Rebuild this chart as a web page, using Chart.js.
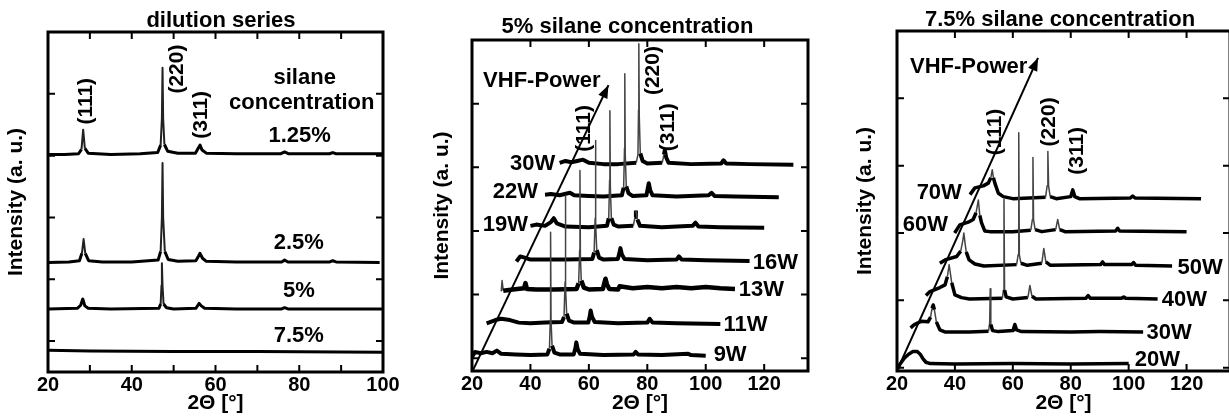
<!DOCTYPE html>
<html>
<head>
<meta charset="utf-8">
<script src="https://cdn.jsdelivr.net/npm/chart.js@4"></script>
<style>
  body { margin: 0; width: 1229px; height: 416px; overflow: hidden; position: relative; background: #fff; }
  canvas { position: absolute; top: 0; }
</style>
</head>
<body>
<canvas id="c1" width="442" height="416" style="left:0"></canvas>
<canvas id="c2" width="435" height="416" style="left:410px"></canvas>
<canvas id="c3" width="480" height="416" style="left:820px"></canvas>
<script>
// ---- panel 1: dilution series (2theta, intensity offset) ----
const dil125 = [[20,3.02],[24,3.02],[27.3,3.03],[28.0,3.1],[28.4,3.42],[28.8,3.12],[29.6,3.04],[35,3.02],[42,3.03],[46.2,3.05],[46.9,3.17],[47.2,3.6],[47.35,4.42],[47.5,3.6],[47.8,3.18],[48.6,3.07],[51,3.04],[55.2,3.04],[55.8,3.11],[56.3,3.17],[56.8,3.09],[57.8,3.04],[65,3.03],[75.5,3.03],[76.5,3.06],[77.5,3.03],[87.2,3.03],[88,3.05],[88.8,3.03],[100,3.03]];
const dil25 = [[20,1.27],[25,1.28],[27.5,1.3],[28.1,1.42],[28.5,1.65],[28.9,1.42],[29.7,1.3],[33,1.28],[40,1.28],[46.3,1.31],[46.9,1.45],[47.2,2.0],[47.35,2.88],[47.5,2.0],[47.9,1.45],[48.7,1.32],[51,1.29],[55.3,1.3],[55.9,1.37],[56.3,1.42],[56.9,1.34],[57.8,1.29],[65,1.28],[75.8,1.28],[76.5,1.31],[77.3,1.28],[87.3,1.28],[88,1.3],[88.8,1.28],[99.2,1.27]];
const dil5 = [[20,0.52],[27,0.53],[27.8,0.58],[28.3,0.68],[28.8,0.57],[29.6,0.53],[35,0.52],[46.5,0.53],[46.9,0.6],[47.1,0.9],[47.2,1.26],[47.35,0.9],[47.6,0.6],[48.3,0.54],[50,0.52],[55.3,0.53],[55.8,0.58],[56.1,0.61],[56.6,0.57],[57.4,0.53],[65,0.52],[75.8,0.52],[76.5,0.54],[77.3,0.52],[100,0.52]];
const dil75 = [[20,-0.15],[30,-0.16],[50,-0.17],[70,-0.17],[100,-0.18]];

// ---- panel 2: 5% silane, VHF power series ----
const p5_9W = [[20,0.02],[21,0.1],[23,0.08],[25,0.1],[27,0.08],[28.5,0.12],[30,0.07],[35,0.06],[40,0.05],[45.8,0.06],[46.5,0.15],[46.8,0.6],[46.9,1.98],[47.05,0.6],[47.4,0.2],[48.2,0.09],[50,0.06],[54.8,0.06],[55.4,0.16],[55.7,0.25],[56.2,0.14],[57,0.07],[65,0.05],[75.3,0.06],[76,0.1],[76.8,0.06],[85,0.05],[94,0.07],[95,0.05],[100,0.04]];
const p5_11W = [[25,0.55],[28,0.6],[30,0.62],[33,0.6],[36,0.56],[40,0.55],[45,0.56],[50.8,0.57],[51.5,0.65],[51.85,1.2],[51.95,2.55],[52.1,1.1],[52.4,0.7],[53.2,0.59],[55,0.56],[59.8,0.56],[60.3,0.66],[60.6,0.75],[61.1,0.65],[62,0.57],[70,0.55],[80,0.56],[80.8,0.62],[81.8,0.56],[90,0.55],[105,0.54]];
const p5_13W = [[30,1.05],[30.3,1.22],[30.7,1.06],[34,1.08],[37.8,1.1],[38.3,1.18],[38.8,1.09],[42,1.08],[48,1.08],[55.8,1.09],[56.5,1.18],[56.85,1.7],[56.95,2.95],[57.1,1.6],[57.4,1.22],[58.3,1.11],[60,1.08],[64.8,1.09],[65.4,1.2],[65.7,1.25],[66.2,1.16],[67,1.09],[70,1.08],[70.5,1.13],[75,1.1],[80,1.12],[85,1.1],[90,1.12],[95,1.1],[100,1.12],[105,1.1],[110,1.09]];
const p5_16W = [[35.2,1.52],[36.5,1.6],[38,1.58],[40,1.55],[45,1.55],[52,1.55],[61.2,1.56],[61.8,1.66],[62.15,2.2],[62.25,3.42],[62.4,2.1],[62.7,1.7],[63.5,1.58],[65,1.55],[69.9,1.56],[70.5,1.66],[70.8,1.73],[71.3,1.63],[72.2,1.56],[80,1.54],[90,1.55],[90.8,1.6],[91.8,1.55],[100,1.54],[115,1.53]];
const p5_19W = [[40,2.08],[42,2.1],[45,2.08],[47,2.14],[48,2.2],[49,2.12],[52,2.07],[60,2.06],[66.2,2.08],[66.8,2.2],[67.1,2.8],[67.2,3.89],[67.35,2.7],[67.7,2.2],[68.5,2.1],[70,2.07],[75.2,2.08],[75.8,2.22],[76.1,2.32],[76.6,2.18],[77.5,2.08],[85,2.06],[95.5,2.08],[96.5,2.13],[97.5,2.07],[105,2.06],[120,2.05]];
const p5_22W = [[45,2.57],[47,2.58],[50,2.56],[53.5,2.6],[55,2.56],[60,2.55],[65,2.54],[71.3,2.56],[71.9,2.68],[72.2,3.3],[72.3,4.47],[72.45,3.2],[72.8,2.7],[73.6,2.59],[75,2.55],[79.7,2.56],[80.2,2.68],[80.5,2.75],[81,2.64],[81.8,2.56],[90,2.54],[101,2.56],[102,2.6],[103,2.55],[110,2.54],[125,2.53]];
const p5_30W = [[50,3.07],[52,3.1],[54,3.08],[56,3.1],[58,3.12],[60,3.07],[65,3.05],[70,3.05],[76.2,3.07],[76.8,3.2],[77.0,3.9],[77.1,4.94],[77.25,3.8],[77.6,3.22],[78.4,3.1],[80,3.06],[85.1,3.07],[85.7,3.2],[86.0,3.27],[86.5,3.15],[87.3,3.07],[95,3.05],[105.3,3.06],[106.1,3.11],[107,3.06],[115,3.05],[130,3.04]];
const p5_arrow = [[20.3,-0.19],[66.7,4.29]];

// ---- panel 3: 7.5% silane, VHF power series ----
const p75_20W = [[20,-0.04],[21,0.05],[22.5,0.14],[24,0.2],[25.5,0.24],[27,0.24],[28,0.2],[29,0.13],[30,0.08],[31.5,0.06],[40,0.055],[60,0.06],[80,0.055],[100,0.06]];
const p75_30W = [[24.7,0.59],[26,0.64],[28.5,0.69],[30.7,0.68],[31.6,0.75],[32.1,0.88],[32.5,0.93],[32.9,0.86],[33.6,0.68],[34.8,0.56],[36.5,0.53],[45,0.53],[51.6,0.54],[52.0,0.66],[52.2,1.17],[52.4,0.64],[53.0,0.55],[55,0.535],[60.1,0.55],[60.7,0.64],[61.3,0.56],[63,0.535],[80,0.53],[90,0.535],[105,0.53]];
const p75_40W = [[30,1.07],[31.4,1.13],[34.8,1.19],[36.6,1.23],[37.4,1.35],[38.0,1.53],[38.5,1.38],[38.9,1.26],[40,1.08],[42.3,1.04],[45,1.02],[56.4,1.03],[56.75,1.15],[56.95,2.5],[57.15,1.15],[57.7,1.05],[60,1.02],[65.2,1.04],[65.9,1.22],[66.6,1.06],[68,1.02],[85.2,1.03],[86,1.07],[86.8,1.03],[97.5,1.03],[98.3,1.05],[99,1.03],[110,1.02]];
const p75_50W = [[34.8,1.55],[36.6,1.6],[40.6,1.65],[42.0,1.73],[42.7,1.88],[43.1,2.0],[43.5,1.85],[43.9,1.72],[44.9,1.6],[46.9,1.54],[50,1.51],[61.3,1.53],[61.85,1.68],[62.05,3.49],[62.25,1.68],[62.8,1.55],[65,1.52],[70.0,1.55],[70.7,1.77],[71.4,1.57],[73,1.52],[90.3,1.53],[91,1.57],[91.7,1.53],[101,1.53],[101.7,1.56],[102.4,1.52],[115,1.51]];
const p75_60W = [[39.9,2.0],[41.7,2.12],[44.6,2.16],[46.3,2.2],[47.3,2.3],[48.1,2.49],[48.6,2.26],[49.2,2.15],[50.3,2.03],[52,2.02],[60,2.02],[66.2,2.04],[66.75,2.2],[66.95,3.12],[67.15,2.2],[67.7,2.05],[70,2.02],[74.8,2.05],[75.5,2.2],[76.2,2.05],[78,2.02],[95.5,2.03],[96.2,2.07],[96.9,2.03],[120,2.02]];
const p75_70W = [[45.2,2.57],[46.9,2.67],[49.8,2.7],[51.5,2.74],[52.4,2.82],[52.9,2.94],[53.3,2.82],[53.8,2.74],[55.0,2.59],[56.7,2.54],[60,2.51],[71.3,2.53],[71.85,2.7],[72.1,3.21],[72.35,2.7],[72.9,2.54],[75,2.51],[80.0,2.54],[80.7,2.64],[81.4,2.54],[83,2.51],[100.6,2.52],[101.4,2.55],[102.2,2.52],[125,2.51]];
const p75_arrow = [[20,-0.045],[68.7,4.6]];

const yTickValues = [0, 1, 2, 3, 4];

const FONT = '"Liberation Sans", Arial, sans-serif';
Chart.defaults.font.family = FONT;
Chart.defaults.color = '#000';

// thin, grey strokes for the very sharp peak flanks
function isSteep(ctx) {
    const dx = Math.abs(ctx.p1.x - ctx.p0.x);
    const dy = Math.abs(ctx.p1.y - ctx.p0.y);
    return dy > 8 && dy > 4 * dx;
}

function curve(data, width, thin, thinColor) {
    return {
        data: data,
        borderColor: '#000',
        borderWidth: width,
        borderJoinStyle: 'round',
        pointRadius: 0,
        tension: 0,
        segment: {
            borderWidth: ctx => isSteep(ctx) ? thin : undefined,
            borderColor: ctx => isSteep(ctx) ? thinColor : undefined
        }
    };
}

function arrow(data) {
    return { data: data, arrow: true, borderColor: '#000', borderWidth: 2, pointRadius: 0, tension: 0 };
}

// frame, inward ticks, arrow heads and text labels
function framePlugin(labels) {
    return {
        id: 'frame',
        afterDatasetsDraw(chart) {
            const { ctx, chartArea: a, scales } = chart;
            const x = scales.x, y = scales.y;
            ctx.save();
            ctx.strokeStyle = '#000';
            ctx.lineWidth = 2;
            ctx.beginPath();
            x.ticks.forEach(t => {
                if (t.value <= x.min || t.value >= x.max) return;
                const px = x.getPixelForValue(t.value);
                ctx.moveTo(px, a.top); ctx.lineTo(px, a.top + 7);
                ctx.moveTo(px, a.bottom); ctx.lineTo(px, a.bottom - 7);
            });
            yTickValues.forEach(v => {
                const py = y.getPixelForValue(v);
                ctx.moveTo(a.left, py); ctx.lineTo(a.left + 7, py);
                ctx.moveTo(a.right, py); ctx.lineTo(a.right - 7, py);
            });
            ctx.stroke();
            ctx.lineWidth = 3;
            ctx.strokeRect(a.left, a.top, a.right - a.left, a.bottom - a.top);

            chart.data.datasets.forEach((ds, i) => {
                if (!ds.arrow) return;
                const pts = chart.getDatasetMeta(i).data;
                const p0 = pts[0], p1 = pts[pts.length - 1];
                const ang = Math.atan2(p1.y - p0.y, p1.x - p0.x);
                ctx.save();
                ctx.translate(p1.x, p1.y);
                ctx.rotate(ang);
                ctx.beginPath();
                ctx.moveTo(0, 0); ctx.lineTo(-13, -5); ctx.lineTo(-13, 5);
                ctx.closePath();
                ctx.fillStyle = '#000';
                ctx.fill();
                ctx.restore();
            });

            ctx.fillStyle = '#000';
            labels.forEach(l => {
                ctx.save();
                ctx.font = 'bold ' + (l.size || 22) + 'px ' + FONT;
                ctx.translate(x.getPixelForValue(l.x), y.getPixelForValue(l.y));
                if (l.rot) ctx.rotate(-Math.PI / 2);
                ctx.textAlign = l.align || 'center';
                ctx.textBaseline = 'middle';
                ctx.fillText(l.text, 0, 0);
                ctx.restore();
            });
            ctx.restore();
        }
    };
}

function makeChart(id, p) {
    return new Chart(document.getElementById(id), {
        type: 'line',
        data: { datasets: p.datasets },
        options: {
            responsive: false,
            animation: false,
            events: [],
            layout: { padding: 0 },
            plugins: {
                legend: { display: false },
                tooltip: { enabled: false },
                title: {
                    display: true,
                    text: p.title,
                    font: { size: 22, weight: 'bold', lineHeight: 1 },
                    padding: { top: p.titleTop, bottom: p.titleBottom }
                }
            },
            scales: {
                x: {
                    type: 'linear',
                    min: p.xMin, max: p.xMax,
                    grid: { display: false, drawTicks: false },
                    border: { display: false },
                    ticks: {
                        stepSize: p.xStep,
                        includeBounds: false,
                        autoSkip: false,
                        maxRotation: 0,
                        padding: 1,
                        font: { size: 20, weight: 'bold' },
                        callback: v => (v % 20 === 0 ? v : '')
                    },
                    title: {
                        display: true,
                        text: '2\u0398 [\u00b0]',
                        font: { size: 21, weight: 'bold', lineHeight: 1.2 },
                        padding: { top: 0, bottom: 0 }
                    },
                    afterFit: s => { s.height = p.xAxisH; }
                },
                y: {
                    type: 'linear',
                    position: 'left',
                    min: p.yMin, max: 5,
                    grid: { display: false, drawTicks: false },
                    border: { display: false },
                    ticks: { display: false },
                    title: {
                        display: true,
                        text: 'Intensity (a. u.)',
                        font: { size: 21, weight: 'bold', lineHeight: 1.2 },
                        padding: { top: p.yTitlePad, bottom: 0 }
                    },
                    afterFit: s => { s.width = p.leftW; }
                },
                y2: {
                    type: 'linear',
                    position: 'right',
                    grid: { display: false, drawTicks: false },
                    border: { display: false },
                    ticks: { display: false },
                    afterFit: s => { s.width = p.rightW; }
                }
            }
        },
        plugins: [framePlugin(p.labels)]
    });
}

// panel 1
makeChart('c1', {
    title: 'dilution series', titleTop: 9.5, titleBottom: 0.5,
    xMin: 20, xMax: 100, xStep: 10, yMin: -0.5,
    leftW: 48, rightW: 59, xAxisH: 44, yTitlePad: 4,
    datasets: [
        curve(dil125, 3, 2, '#222'),
        curve(dil25, 3, 2, '#222'),
        curve(dil5, 3, 2, '#222'),
        curve(dil75, 3, 2, '#222')
    ],
    labels: [
        { text: '(111)', x: 29.1, y: 3.88, rot: true, size: 21 },
        { text: '(220)', x: 50.8, y: 4.4, rot: true, size: 21 },
        { text: '(311)', x: 56.5, y: 3.66, rot: true, size: 21 },
        { text: 'silane', x: 81.3, y: 4.26 },
        { text: 'concentration', x: 80.6, y: 3.85 },
        { text: '1.25%', x: 80.1, y: 3.32 },
        { text: '2.5%', x: 79.9, y: 1.59 },
        { text: '5%', x: 79.9, y: 0.81 },
        { text: '7.5%', x: 79.9, y: 0.08 }
    ]
});

// panel 2
makeChart('c2', {
    title: '5% silane concentration', titleTop: 16, titleBottom: 2,
    xMin: 20, xMax: 135, xStep: 20, yMin: -0.2,
    leftW: 62, rightW: 37, xAxisH: 45, yTitlePad: 20,
    datasets: [
        curve(p5_9W, 4, 1.5, '#444'),
        curve(p5_11W, 4, 1.5, '#444'),
        curve(p5_13W, 4.5, 1.5, '#444'),
        curve(p5_16W, 4, 1.5, '#444'),
        curve(p5_19W, 4, 1.5, '#444'),
        curve(p5_22W, 4, 1.5, '#444'),
        curve(p5_30W, 4, 1.5, '#444'),
        arrow(p5_arrow)
    ],
    labels: [
        { text: 'VHF-Power', x: 23.8, y: 4.36, align: 'left' },
        { text: '30W', x: 48.5, y: 3.06, align: 'right' },
        { text: '22W', x: 42.6, y: 2.61, align: 'right' },
        { text: '19W', x: 39.2, y: 2.09, align: 'right' },
        { text: '16W', x: 116.1, y: 1.49, align: 'left' },
        { text: '13W', x: 111.3, y: 1.07, align: 'left' },
        { text: '11W', x: 106.1, y: 0.52, align: 'left' },
        { text: '9W', x: 102.7, y: 0.05, align: 'left' },
        { text: '(111)', x: 58.4, y: 3.61, rot: true, size: 21 },
        { text: '(220)', x: 82.1, y: 4.52, rot: true, size: 21 },
        { text: '(311)', x: 87.2, y: 3.63, rot: true, size: 21 }
    ]
});

// panel 3
makeChart('c3', {
    title: '7.5% silane concentration', titleTop: 9, titleBottom: 0,
    xMin: 20, xMax: 135, xStep: 20, yMin: -0.05,
    leftW: 77, rightW: 70, xAxisH: 45, yTitlePad: 33,
    datasets: [
        curve(p75_20W, 3.5, 1.5, '#444'),
        curve(p75_30W, 3.5, 1.5, '#444'),
        curve(p75_40W, 3.5, 1.5, '#444'),
        curve(p75_50W, 3.5, 1.5, '#444'),
        curve(p75_60W, 3.5, 1.5, '#444'),
        curve(p75_70W, 3.5, 1.5, '#444'),
        arrow(p75_arrow)
    ],
    labels: [
        { text: 'VHF-Power', x: 24.5, y: 4.47, align: 'left' },
        { text: '70W', x: 42.4, y: 2.6, align: 'right' },
        { text: '60W', x: 37.6, y: 2.12, align: 'right' },
        { text: '50W', x: 116.9, y: 1.48, align: 'left' },
        { text: '40W', x: 111.4, y: 1.01, align: 'left' },
        { text: '30W', x: 106.2, y: 0.52, align: 'left' },
        { text: '20W', x: 102.1, y: 0.12, align: 'left' },
        { text: '(111)', x: 53.8, y: 3.5, rot: true, size: 21 },
        { text: '(220)', x: 72.4, y: 3.65, rot: true, size: 21 },
        { text: '(311)', x: 82.1, y: 3.22, rot: true, size: 21 }
    ]
});
</script>
</body>
</html>
